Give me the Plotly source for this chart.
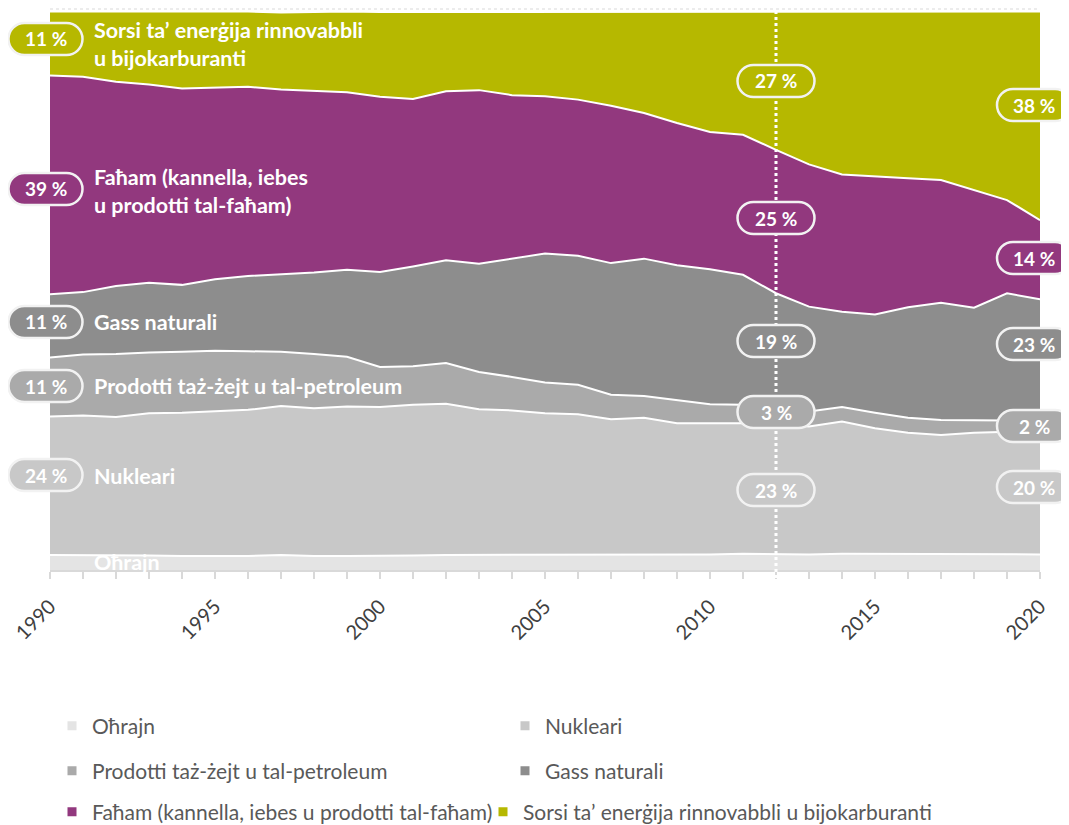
import plotly.graph_objects as go

years = list(range(1990, 2021))
ohrajn = [2.7, 2.7, 2.7, 2.6, 2.5, 2.5, 2.5, 2.7, 2.5, 2.5, 2.5, 2.6, 2.7, 2.7, 2.7, 2.7,
          2.7, 2.8, 2.7, 2.7, 2.8, 2.9, 2.8, 2.8, 2.9, 2.9, 2.9, 2.9, 2.9, 2.9, 2.8]
nukleari = [24.8, 25.0, 24.7, 25.5, 25.7, 25.9, 26.2, 26.7, 26.5, 26.8, 26.7, 27.0, 27.1, 26.1, 25.9, 25.4,
            25.2, 24.2, 24.6, 23.6, 23.5, 23.4, 23.3, 22.9, 23.7, 22.5, 21.7, 21.3, 21.7, 21.9, 22.1]
petroleum = [10.6, 10.9, 11.3, 10.9, 10.9, 10.9, 10.5, 9.7, 9.7, 8.9, 7.2, 6.9, 7.3, 6.7, 6.0, 5.5,
             5.3, 4.4, 3.9, 4.2, 3.4, 3.3, 3.1, 2.7, 2.6, 2.8, 2.7, 2.7, 2.2, 2.0, 2.0]
gass = [11.3, 11.2, 12.2, 12.5, 12.0, 12.8, 13.5, 13.9, 14.6, 15.6, 17.0, 17.9, 18.4, 19.4, 21.2, 23.1,
        23.1, 23.6, 24.6, 24.1, 24.2, 23.3, 20.4, 18.8, 17.1, 17.6, 19.8, 21.0, 20.2, 22.8, 21.6]
faham = [39.2, 38.6, 36.6, 35.5, 35.2, 34.3, 33.9, 33.1, 32.6, 31.8, 31.4, 30.0, 30.3, 31.1, 29.3, 28.2,
         28.0, 28.2, 26.1, 25.5, 24.6, 25.1, 25.7, 25.5, 24.6, 24.7, 23.1, 22.0, 21.1, 16.7, 14.2]
rinnovabbli = [11.5, 11.7, 12.5, 13.1, 13.7, 13.7, 13.5, 13.8, 14.1, 14.5, 15.2, 15.6, 14.3, 14.0, 15.0, 15.2,
               15.8, 16.8, 18.2, 20.0, 21.6, 22.0, 24.7, 27.4, 29.2, 29.5, 29.8, 30.1, 31.9, 33.8, 37.4]

names = ["Oħrajn", "Nukleari", "Prodotti taż-żejt u tal-petroleum", "Gass naturali",
         "Faħam (kannella, iebes u prodotti tal-faħam)", "Sorsi ta’ enerġija rinnovabbli u bijokarburanti"]
series = [ohrajn, nukleari, petroleum, gass, faham, rinnovabbli]
colors = ["#e4e4e4", "#c8c8c8", "#aaaaaa", "#8d8d8d", "#92387e", "#b6b800"]
legend_ids = ["legend", "legend", "legend2", "legend2", "legend3", "legend4"]

# inner labels: (text, x_px, y_px) in page pixels
inner_labels = [
    ("Sorsi ta’ enerġija rinnovabbli", 92, 30), ("u bijokarburanti", 92, 58),
    ("Faħam (kannella, iebes", 92, 177), ("u prodotti tal-faħam)", 92, 205),
    ("Gass naturali", 92, 322), ("Prodotti taż-żejt u tal-petroleum", 92, 386),
    ("Nukleari", 92, 476), ("Oħrajn", 92, 562),
]
# pills: (text, colour index, y_px)
pills_left = [("11 %", 5, 39), ("39 %", 4, 189), ("11 %", 3, 322), ("11 %", 2, 386), ("24 %", 1, 475)]
pills_mid = [("27 %", 5, 81), ("25 %", 4, 218), ("19 %", 3, 341), ("3 %", 2, 412), ("23 %", 1, 490)]
pills_right = [("38 %", 5, 105), ("14 %", 4, 258), ("23 %", 3, 344), ("2 %", 2, 426), ("20 %", 1, 487)]
mark_year = 2012

FONT = "Lato"
# the page body has an 8px margin; figure is placed at (8, 8)
W, H = 1061, 817
L, R, T, B = 42, 29, 1, 255
PW, PH = W - L - R, H - T - B
PLOT_LEFT_PAGE, PLOT_BOTTOM_PAGE = 8 + L, 8 + T + PH


def px2x(px):
    return (px - PLOT_LEFT_PAGE) / PW


def px2y(py):
    return (PLOT_BOTTOM_PAGE - py) / PH


fig = go.Figure()
for name, vals, col in zip(names, series, colors):
    fig.add_trace(go.Scatter(
        x=years, y=vals, name=name, stackgroup="one", mode="lines",
        line=dict(color="white", width=2), fillcolor=col, showlegend=False,
        legendgroup=name, hoverinfo="x+y+name"))
for name, col, lid in zip(names, colors, legend_ids):
    fig.add_trace(go.Scatter(
        x=[None], y=[None], name=name, mode="markers", legendgroup=name,
        marker=dict(symbol="square", size=9, color=col), legend=lid, showlegend=True))

shapes = []
annotations = []
shapes.append(dict(type="line", xref="paper", yref="paper", x0=0, x1=1, y0=1, y1=1,
                   line=dict(color="#d9d9d9", width=1, dash="dot"), layer="above"))
shapes.append(dict(type="line", xref="x", yref="paper", x0=mark_year, x1=mark_year,
                   y0=px2y(578), y1=px2y(6), line=dict(color="white", width=3, dash="dot"), layer="above"))


def pill_path(w, h):
    r = h / 2
    hw = w / 2 - r
    k = 0.5523 * r
    return (f"M{-hw},{-r} L{hw},{-r} C{hw + k},{-r} {hw + r},{-k} {hw + r},0 "
            f"C{hw + r},{k} {hw + k},{r} {hw},{r} L{-hw},{r} C{-hw - k},{r} {-hw - r},{k} {-hw - r},0 "
            f"C{-hw - r},{-k} {-hw - k},{-r} {-hw},{-r} Z")


def add_pill(text, ci, xref, xval, ypx, w=75, h=32):
    shapes.append(dict(type="path", xref=xref, yref="paper", xsizemode="pixel", ysizemode="pixel",
                       xanchor=xval, yanchor=px2y(ypx), path=pill_path(w, h),
                       fillcolor=colors[ci], line=dict(color="#f2f2f2", width=2.5), layer="above"))
    annotations.append(dict(text=f"<b>{text}</b>", xref=xref, yref="paper", x=xval, y=px2y(ypx),
                            xanchor="center", yanchor="middle", showarrow=False,
                            font=dict(family=FONT, size=19, color="white")))


for t, ci, y in pills_left:
    add_pill(t, ci, "paper", px2x(45.5), y, w=74)
for t, ci, y in pills_mid:
    add_pill(t, ci, "x", mark_year, y, w=77)
for t, ci, y in pills_right:
    add_pill(t, ci, "paper", px2x(1034), y, w=74)

for t, x, y in inner_labels:
    annotations.append(dict(text=f"<b>{t}</b>", xref="paper", yref="paper", x=px2x(x), y=px2y(y),
                            xanchor="left", yanchor="middle", showarrow=False,
                            font=dict(family=FONT, size=21.5, color="white")))

legend_font = dict(family=FONT, size=21, color="#595959")
common_leg = dict(orientation="h", xanchor="left", yanchor="middle", bgcolor="rgba(0,0,0,0)",
                  font=legend_font, itemwidth=30, traceorder="normal")

fig.update_layout(
    width=W, height=H,
    margin=dict(l=L, r=R, t=T, b=B, pad=0, autoexpand=False),
    paper_bgcolor="white", plot_bgcolor="white",
    font=dict(family=FONT, color="#404040"),
    xaxis=dict(range=[1990, 2020], tickmode="linear", tick0=1990, dtick=5, tickangle=-45,
               ticks="outside", ticklen=7, tickwidth=2, tickcolor="#d9d9d9", ticklabelstandoff=8,
               showline=True, linecolor="#d9d9d9", linewidth=2, showgrid=False, zeroline=False,
               tickfont=dict(family=FONT, size=20, color="#404040"),
               minor=dict(dtick=1, tick0=1990, ticks="outside", ticklen=7, tickwidth=2,
                          tickcolor="#d9d9d9", showgrid=False)),
    yaxis=dict(range=[0, 100.54], visible=False, showgrid=False, zeroline=False),
    legend=dict(common_leg, x=px2x(52), y=px2y(726), entrywidth=408, entrywidthmode="pixels"),
    legend2=dict(common_leg, x=px2x(52), y=px2y(771), entrywidth=408, entrywidthmode="pixels"),
    legend3=dict(common_leg, x=px2x(52), y=px2y(812)),
    legend4=dict(common_leg, x=px2x(483), y=px2y(812)),
    shapes=shapes, annotations=annotations,
    hovermode="x unified",
)

fig.write_html("out.html")
